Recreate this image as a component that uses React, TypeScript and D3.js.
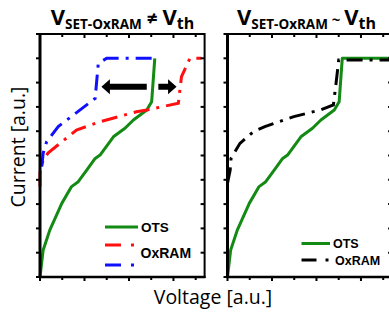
import React from "react";
import * as d3 from "d3";

// OTS curve (same device in both panels)
const otsV = [0, 0.07, 0.22, 0.49, 0.71, 0.86, 1.05, 1.24, 1.35, 1.65, 1.91, 2.1, 2.4, 2.51, 2.58, 3.7];
const otsI = [0, 1.1, 1.93, 3.03, 3.72, 3.92, 4.4, 4.88, 5.02, 5.77, 6.12, 6.46, 6.87, 7.21, 9.0, 9.0];

// Left panel OxRAM curves
const redV = [0, 0.0, 0.07, 0.18, 0.82, 1.35, 2.17, 2.4, 3.11, 3.18, 3.37, 3.63];
const redI = [3.72, 4.3, 4.81, 5.1, 6.05, 6.39, 6.8, 6.87, 7.15, 8.24, 9.0, 9.0];
const blueV = [0.04, 0.07, 0.15, 0.41, 1.24, 1.31, 1.5, 2.58];
const blueI = [4.54, 5.09, 5.57, 6.19, 7.35, 8.79, 9.0, 9.0];

// Right panel OxRAM curve
const blackV = [0, 0.06, 0.08, 0.28, 0.58, 0.84, 1.49, 2.08, 2.38, 2.44, 2.5, 3.7];
const blackI = [3.86, 4.4, 4.88, 5.5, 5.98, 6.19, 6.6, 6.87, 7.08, 7.97, 8.93, 8.93];

// double arrow (left panel): [tailV, tipV] for each half, at current level
const arrowLevel = 7.83;
const arrowLeft = [2.4, 1.38];
const arrowRight = [2.66, 3.07];

const xTicks = [0, 0.5, 1, 1.5, 2, 2.5, 3, 3.5];
const yTicks = [0, 1, 2, 3, 4, 5, 6, 7, 8, 9, 10];

const W = 389, H = 316;
const yTop = 34, yBot = 277;
const panelW = 164.6;

function toPts(xs: number[], ys: number[]) {
  return xs.map((v, i) => [v, ys[i]] as [number, number]);
}

function Panel({ x0, children }: { x0: number; children: (x: d3.ScaleLinear<number, number>, y: d3.ScaleLinear<number, number>) => React.ReactNode }) {
  const x = d3.scaleLinear().domain([0, 3.7]).range([x0, x0 + panelW]);
  const y = d3.scaleLinear().domain([0, 10]).range([yBot, yTop]);
  return (
    <g>
      {children(x, y)}
      <rect x={x(0)} y={y(10)} width={x(3.7) - x(0)} height={y(0) - y(10)} fill="none" stroke="#000" strokeWidth={2} />
      <line x1={x(0)} x2={x(0)} y1={y(10) - 1} y2={y(0) + 1} stroke="#000" strokeWidth={3} />
      <line x1={x(0) - 1} x2={x(3.7) + 1} y1={y(0)} y2={y(0)} stroke="#000" strokeWidth={2.5} />
      {xTicks.map((t) => (
        <g key={"x" + t}>
          <line x1={x(t)} x2={x(t)} y1={y(0)} y2={y(0) + (t % 1 === 0 ? 4 : 3)} stroke="#000" strokeWidth={2} />
          <line x1={x(t)} x2={x(t)} y1={y(10)} y2={y(10) + (t % 1 === 0 ? 4 : 3)} stroke="#000" strokeWidth={2} />
        </g>
      ))}
      {yTicks.map((t) => (
        <g key={"y" + t}>
          <line x1={x(0) - 4} x2={x(0)} y1={y(t)} y2={y(t)} stroke="#000" strokeWidth={2} />
          <line x1={x(3.7) - 4} x2={x(3.7)} y1={y(t)} y2={y(t)} stroke="#000" strokeWidth={2} />
        </g>
      ))}
    </g>
  );
}

function Title({ cx, op }: { cx: number; op: string }) {
  return (
    <text x={cx} y={25} textAnchor="middle" fontFamily="Open Sans, sans-serif" fontWeight="bold" fontSize={22}>
      <tspan>V</tspan>
      <tspan fontSize={13.5} dy={4}>SET-OxRAM</tspan>
      <tspan dy={-4} fontSize={op === "~" ? 15 : 19}>{" " + op + " "}</tspan>
      <tspan>V</tspan>
      <tspan fontSize={16} dy={4}>th</tspan>
    </text>
  );
}

export default function App() {
  const line = (x: any, y: any) => d3.line<[number, number]>().x((d) => x(d[0])).y((d) => y(d[1]));
  const dash = "16,7,3,7";
  const arrowPath = (x: any, y: any, tail: number, tip: number) => {
    const dir = Math.sign(tip - tail);
    const xt = x(tip), xs = x(tail), yc = y(arrowLevel);
    const hl = 8.5 * dir, hh = 7.5, sh = 3;
    const xb = xt - hl;
    return `M${xs},${yc - sh}L${xb},${yc - sh}L${xb},${yc - hh}L${xt},${yc}L${xb},${yc + hh}L${xb},${yc + sh}L${xs},${yc + sh}Z`;
  };
  const tf = "Open Sans, sans-serif";
  return (
    <svg width={W} height={H} style={{ display: "block", position: "absolute", left: 0, top: 0 }}>
      <rect width={W} height={H} fill="#fff" />
      <Panel x0={40}>
        {(x, y) => {
          const l = line(x, y);
          return (
            <g>
              <path d={l(toPts(otsV, otsI).filter((d) => d[0] <= 3.63)) || ""} fill="none" stroke="#138a13" strokeWidth={3} strokeLinejoin="round" />
              <path d={l(toPts(redV, redI)) || ""} fill="none" stroke="#ff1010" strokeWidth={3} strokeDasharray={dash} />
              <path d={l(toPts(blueV, blueI)) || ""} fill="none" stroke="#1010ff" strokeWidth={3} strokeDasharray={dash} />
              <path d={arrowPath(x, y, arrowLeft[0], arrowLeft[1])} fill="#000" />
              <path d={arrowPath(x, y, arrowRight[0], arrowRight[1])} fill="#000" />
              <line x1={105} x2={138} y1={227} y2={227} stroke="#138a13" strokeWidth={3} />
              <text x={141} y={232} fontFamily="Liberation Sans, Arial" fontWeight="bold" fontSize={13.5}>OTS</text>
              <line x1={105} x2={136} y1={245} y2={245} stroke="#ff1010" strokeWidth={3} strokeDasharray="16,10,3,10" />
              <line x1={105} x2={136} y1={265} y2={265} stroke="#1010ff" strokeWidth={3} strokeDasharray="16,10,3,10" />
              <text x={140.5} y={258} fontFamily="Liberation Sans, Arial" fontWeight="bold" fontSize={14}>OxRAM</text>
            </g>
          );
        }}
      </Panel>
      <Panel x0={227.5}>
        {(x, y) => {
          const l = line(x, y);
          return (
            <g>
              <path d={l(toPts(otsV, otsI)) || ""} fill="none" stroke="#138a13" strokeWidth={3} strokeLinejoin="round" />
              <path d={l(toPts(blackV, blackI)) || ""} fill="none" stroke="#000" strokeWidth={3} strokeDasharray={dash} />
              <line x1={301.5} x2={330} y1={243.5} y2={243.5} stroke="#138a13" strokeWidth={3} />
              <text x={333} y={248} fontFamily="Liberation Sans, Arial" fontWeight="bold" fontSize={12.5}>OTS</text>
              <line x1={301.5} x2={330} y1={260} y2={260} stroke="#000" strokeWidth={3} strokeDasharray="15,9,3,9" />
              <text x={335} y={264.5} fontFamily="Liberation Sans, Arial" fontWeight="bold" fontSize={12.5}>OxRAM</text>
            </g>
          );
        }}
      </Panel>
      <Title cx={122.5} op="≠" />
      <Title cx={306.5} op="~" />
      <text transform="translate(25,147) rotate(-90)" textAnchor="middle" fontFamily={tf} fontSize={19.5}>Current [a.u.]</text>
      <text x={213} y={304} textAnchor="middle" fontFamily={tf} fontSize={19.5}>Voltage [a.u.]</text>
    </svg>
  );
}
